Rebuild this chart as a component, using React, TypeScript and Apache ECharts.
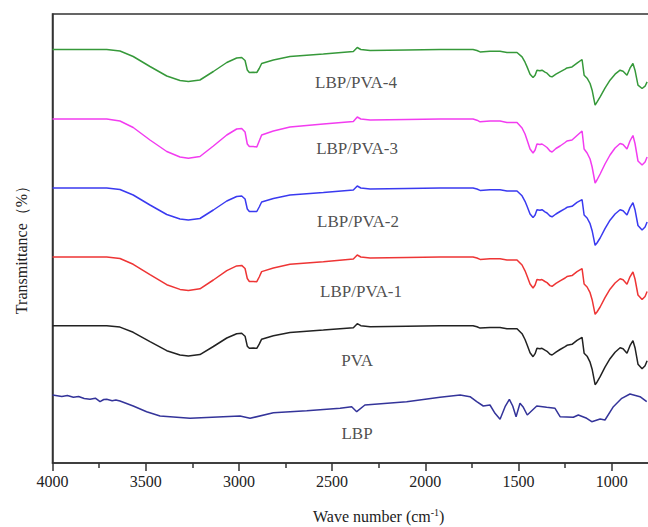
import React, { useEffect, useRef } from "react";
import * as echarts from "echarts";

// Wavenumbers (cm-1) sampled for the PVA-containing spectra
const WN = [4000,3709,3638,3567,3477,3387,3316,3271,3209,3137,3065,3012,2985,2967,2955,2944,2923,2904,2891,2878,2815,2726,2547,2386,2365,2346,2296,2100,1921,1744,1723,1706,1653,1599,1562,1508,1481,1465,1454,1438,1422,1411,1401,1385,1374,1358,1347,1331,1320,1299,1277,1250,1240,1213,1186,1159,1148,1132,1116,1105,1089,1079,1062,1036,1009,982,955,939,918,902,886,875,859,837,821,810];

// Offset transmittance (arbitrary units)
const PVA4 = [413.5,413.5,412,406.5,396.5,387,382.5,381.5,383,391.5,400.5,405,405.5,402.5,393,390.5,390.7,390.5,394.5,399.5,403,406.5,409,411.5,415.5,413.5,412.5,413,413.5,413.5,412.5,411.1,411.8,411.8,410.5,410.5,406.1,400.8,396.1,388.8,385.5,387.8,392.8,392.3,392.8,390.8,389.8,386.8,386.1,388.8,391.1,393.8,395.1,396.1,399.8,403.5,387.8,384.8,379.5,372.8,357.8,360.8,366.1,374.8,382.8,388.8,392.8,391.8,387.8,394.8,399.5,392.8,377.8,374.5,376.8,381.1];
const PVA3 = [344,344,342,335.5,323,311.5,306,304.7,306.5,317,328,334,334.5,331,319,316.5,316.5,316,322,328,332,336,339,341.5,346,344,343,343.5,344,344,342.8,341.2,342,342,340.5,340.5,335,329,323,314,310,313,319,318.5,319,317,315.5,312,311,314.5,317,320.5,322,323,327.5,332,314,310,304,296,280,283,289,299,308,315,319.5,318.5,314,322,327.5,319.5,302,298,301,306];
const PVA2 = [275,275,273.5,268,258,248.5,244,243,244.5,253,262,266.5,267,264,254,251.5,251.5,251.5,256,261,264.5,268,270.5,273,277,275,274,274.5,275,275,274,272.6,273.3,273.3,272,272,267.2,261.7,256.7,249,245.4,248,253.3,252.7,253.3,251.2,250,247,246.2,249,251.5,254.3,255.7,256.7,260.6,263.4,248,245,239.3,232.3,217.7,220,225,234.4,242.8,249,253.3,252.2,248,255.4,260.3,253.3,237.5,233,236,241];
const PVA1 = [206,206,204.5,198.7,188.3,178.3,173.6,172.6,174.2,183,192.4,197.1,197.6,194.5,184.5,181.5,181.5,181.3,186,191.4,195,198.7,201.3,204,208,206,205,205.5,206,206,205,203.6,204.3,204.3,203,203,198,192.2,187,179,175,178,183.4,183,183.4,181.5,180.4,177.4,176.7,179.6,182.2,185,186.4,187.4,191.4,194.4,179,176,170.3,163.3,148.7,151,156,165.4,173.8,180,184.3,183.2,178.8,186.2,191,184,168,163.4,166.5,171.5];
const PVA = [137.3,137.3,135.9,130.7,121.3,112.3,108,107,108.4,116.5,125,129.3,129.7,126.8,116.8,114.7,114.9,114.7,118.8,123.8,127.3,130.6,133,135.3,139.3,137.3,136.3,136.8,137.3,137.3,136.3,134.9,135.6,135.6,134.3,134.3,129.3,123.5,118.3,110.3,106.3,109.3,114.7,114.3,114.7,112.8,111.7,108.7,108,110.9,113.5,116.3,117.7,118.7,122.7,125.6,109.8,106.8,100.8,93.8,78.3,80.8,86.3,95.8,104.3,110.8,115.3,114.3,109.8,117.3,122.3,115.3,98.8,94.3,97.3,102.3];

const LBP_WN = [4000,3950,3920,3888,3860,3830,3799,3770,3745,3725,3709,3680,3660,3638,3567,3495,3423,3262,3084,2994,2940,2815,2636,2457,2395,2368,2324,2100,1921,1813,1760,1724,1689,1653,1626,1599,1572,1549,1531,1513,1492,1474,1453,1402,1349,1304,1277,1206,1179,1134,1107,1062,1036,991,946,902,848,812];
const LBP = [68,66.5,67.5,65.7,66.5,64.5,63.7,64.8,61.3,63.5,63.7,62.3,63,62,57,51.3,47,44.7,46.3,47,44.7,50.3,52.3,54.7,56.3,51.3,58,61.3,65.7,68,66.3,61.3,57,58,49.7,43.7,56.3,63.7,57,46.3,59.7,55.7,48,57,55.7,54.7,46.3,45.7,48,44.7,41.3,44,43,56.3,64.7,69,66.3,61.3];

const LABEL_NAMES = ["LBP/PVA-4", "LBP/PVA-3", "LBP/PVA-2", "LBP/PVA-1", "PVA", "LBP"];
const LABEL_WN = [2372, 2366, 2361, 2345, 2366, 2366];
const LABEL_Y = [381, 315, 241.3, 171.3, 103, 30];

const SERIF = '"Liberation Serif", "Times New Roman", serif';

const zip = (xs: number[], ys: number[]) => xs.map((x, i) => [x, ys[i]]);

export default function App() {
  const ref = useRef<HTMLDivElement>(null);
  useEffect(() => {
    if (!ref.current) return;
    const chart = echarts.init(ref.current, undefined, { renderer: "svg" });
    const line = (name: string, xs: number[], ys: number[], color: string) => ({
      name,
      type: "line",
      data: zip(xs, ys),
      showSymbol: false,
      symbol: "none",
      smooth: false,
      lineStyle: { color, width: 1.5 },
      itemStyle: { color },
      z: 3,
    });
    chart.setOption({
      animation: false,
      grid: {
        left: 52.5,
        top: 14,
        width: 652.4,
        bottom: 64,
        containLabel: false,
        outerBoundsMode: "none",
        show: true,
        borderColor: "#333",
        borderWidth: 1.5,
        backgroundColor: "transparent",
      },
      xAxis: {
        type: "value",
        inverse: true,
        min: 500,
        max: 4000,
        interval: 500,
        axisLine: { show: true, lineStyle: { color: "#333", width: 1.5 } },
        axisTick: { show: true, inside: false, length: 8, lineStyle: { color: "#333", width: 1.5 } },
        minorTick: { show: true, splitNumber: 2, length: 5, lineStyle: { color: "#333", width: 1.5 } },
        splitLine: { show: false },
        axisLabel: {
          fontFamily: SERIF,
          fontSize: 16,
          color: "#222",
          margin: 10,
          showMinLabel: false,
          formatter: (v: number) => (v < 1000 ? "" : String(v)),
        },
        name: "Wave number (cm{sup|-1})",
        nameLocation: "middle",
        nameGap: 44,
        nameTextStyle: {
          fontFamily: SERIF,
          fontSize: 16,
          color: "#222",
          rich: {
            sup: { fontFamily: SERIF, fontSize: 10, color: "#222", verticalAlign: "top", padding: [0, 0, 8, 0] },
          },
        },
      },
      yAxis: {
        type: "value",
        min: 0,
        max: 449,
        axisLine: { show: true, lineStyle: { color: "#333", width: 1.5 } },
        axisTick: { show: false },
        axisLabel: { show: false },
        splitLine: { show: false },
      },
      graphic: [
        {
          type: "text",
          x: 21,
          y: 246,
          rotation: Math.PI / 2,
          style: {
            text: "Transmittance（%）",
            fontFamily: SERIF,
            fontSize: 16,
            fill: "#222",
            align: "center",
            verticalAlign: "middle",
          },
        },
      ],
      series: [
        line("LBP/PVA-4", WN, PVA4, "#36993a"),
        line("LBP/PVA-3", WN, PVA3, "#f23cf0"),
        line("LBP/PVA-2", WN, PVA2, "#3a3af0"),
        line("LBP/PVA-1", WN, PVA1, "#ee3535"),
        line("PVA", WN, PVA, "#222222"),
        line("LBP", LBP_WN, LBP, "#34349a"),
        {
          type: "scatter",
          symbol: "circle",
          symbolSize: 1,
          itemStyle: { color: "rgba(0,0,0,0)" },
          silent: true,
          data: LABEL_NAMES.map((n, i) => [LABEL_WN[i], LABEL_Y[i], n]),
          label: {
            show: true,
            position: "inside",
            formatter: (p: any) => p.data[2],
            fontFamily: SERIF,
            fontSize: 17,
            color: "#222",
          },
          z: 4,
        },
      ],
    });
    return () => chart.dispose();
  }, []);
  return (
    <div
      ref={ref}
      style={{ position: "fixed", left: 0, top: 0, width: 648, height: 527, background: "#fff" }}
    />
  );
}
